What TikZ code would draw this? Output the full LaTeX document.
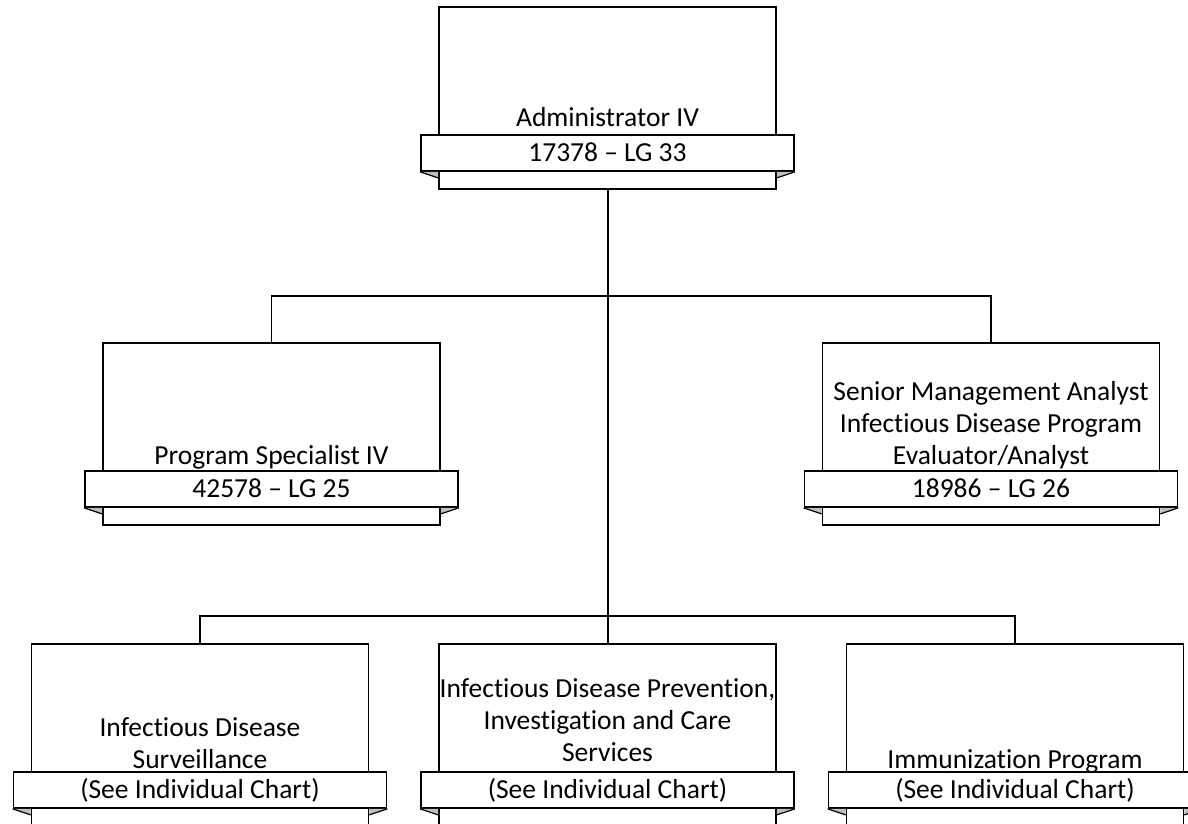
\documentclass[tikz,border=0pt]{standalone}
\usepackage{fontspec}
\setmainfont{Carlito}[Ligatures={NoCommon}]
\tikzset{
  line/.style={line width=1.7pt, draw=black},
  unitbox/.style={line, fill=white, minimum width=337pt, minimum height=182pt, inner sep=0pt, anchor=center},
  ribbon/.style={line, fill=white, minimum width=373pt, minimum height=36pt, inner sep=0pt, anchor=center},
  ribbontext/.style={anchor=base, inner sep=0pt, font=\fontsize{27.5}{32}\selectfont},
  foldfill/.style={fill=black!25},
  foldline/.style={line, line width=1.2pt},
  title/.style={anchor=south, inner sep=0pt, text depth=0pt, align=center, font=\fontsize{27.5}{32}\selectfont},
  conn/.style={line}
}
% #1 name, #2 cx, #3 rect centre y, #4 baseline offset, #5 title, #6 code
\newcommand\orgunit[6]{%
  \node[unitbox] (#1) at (#2,#3) {};
  \node[title] (#1t) at (#2,#3+91-54-#4) {#5};
  \node[ribbon] (#1r) at (#2,#3+91-36) {};
  \node[ribbontext] (#1c) at (#2,#3+91-36+8.5) {#6};
  \fill[foldfill] (#1r.south west) -- ([yshift=-6pt]#1.south west |- #1r.south) -- (#1.south west |- #1r.south) -- cycle;
  \fill[foldfill] (#1r.south east) -- ([yshift=-6pt]#1.south east |- #1r.south) -- (#1.south east |- #1r.south) -- cycle;
  \draw[foldline] (#1r.south west) -- ([yshift=-6pt]#1.south west |- #1r.south);
  \draw[foldline] (#1r.south east) -- ([yshift=-6pt]#1.south east |- #1r.south);
}
\begin{document}
\begin{tikzpicture}[x=1pt,y=-1pt]
\clip (0,0) rectangle (1188,823);
\useasboundingbox (0,0) rectangle (1188,823);
\coordinate (j1) at (608,296);
\coordinate (j2) at (608,616);
\orgunit{top}{607.5}{98}{8}{Administrator IV}{17378 – LG 33}
\orgunit{ml}{271.5}{434}{6}{Program Specialist IV}{42578 – LG 25}
\orgunit{mr}{991}{434}{6}{Senior Management Analyst\\Infectious Disease Program\\Evaluator/Analyst}{18986 – LG 26}
\orgunit{bl}{200}{735}{3}{Infectious Disease\\Surveillance}{(See Individual Chart)}
\orgunit{bm}{607.5}{735}{10}{Infectious Disease Prevention,\\Investigation and Care\\Services}{(See Individual Chart)}
\orgunit{br}{1015}{735}{3}{Immunization Program}{(See Individual Chart)}
\draw[conn] (top.south -| j1) -- (bm.north -| j1);
\draw[conn] (ml.north) |- (j1) -| (mr.north);
\draw[conn] (bl.north) |- (j2) -| (br.north);
\end{tikzpicture}
\end{document}
